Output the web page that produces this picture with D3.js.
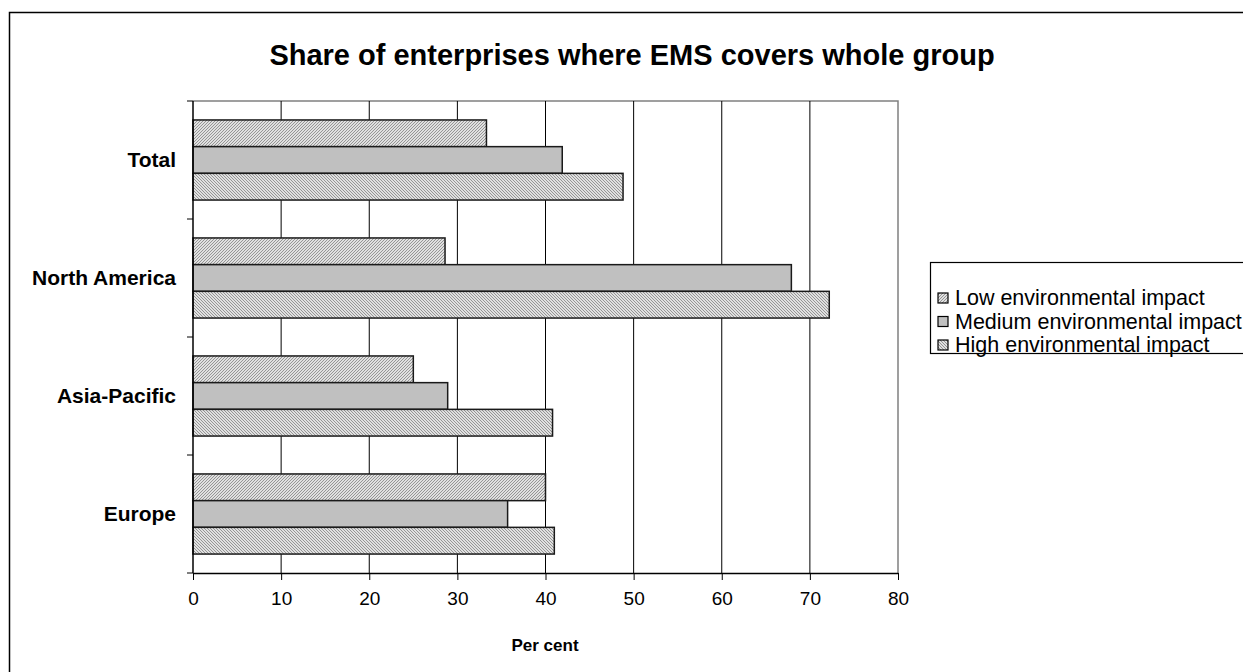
<!DOCTYPE html>
<html><head><meta charset="utf-8">
<script src="https://cdn.jsdelivr.net/npm/d3@7"></script>
<style>body{margin:0;background:#fff}svg{display:block;font-family:Arial,"Liberation Sans",sans-serif}</style>
</head><body>
<svg id="c" width="1243" height="672"></svg>
<script>
const categories = ["Total", "North America", "Asia-Pacific", "Europe"];
const seriesNames = ["Low environmental impact", "Medium environmental impact", "High environmental impact"];
const lowValues = [33.3, 28.6, 25.0, 40.0];
const mediumValues = [41.9, 67.9, 28.9, 35.7];
const highValues = [48.8, 72.2, 40.8, 41.0];
const xTicks = [0, 10, 20, 30, 40, 50, 60, 70, 80];

(function () {
const svg = d3.select("#c");
const defs = svg.append("defs");
function hatch(id, dir) {
  const p = defs.append("pattern").attr("id", id).attr("patternUnits", "userSpaceOnUse")
    .attr("width", 3).attr("height", 3);
  p.append("rect").attr("width", 3).attr("height", 3).attr("fill", "#e0e0e0");
  if (dir > 0) {
    p.append("path").attr("d", "M-1,1 l2,-2 M0,3 l3,-3 M2,4 l2,-2").attr("stroke", "#959595").attr("stroke-width", 1);
  } else {
    p.append("path").attr("d", "M-1,2 l2,2 M0,0 l3,3 M2,-1 l2,2").attr("stroke", "#959595").attr("stroke-width", 1);
  }
}
hatch("hLow", 1);
hatch("hHigh", -1);
const fills = ["url(#hLow)", "#c0c0c0", "url(#hHigh)"];

// outer frame
svg.append("rect").attr("x", 9.5).attr("y", 12.5).attr("width", 1260).attr("height", 680)
  .attr("fill", "none").attr("stroke", "#000").attr("stroke-width", 1.5);

const pLeft = 193, pRight = 898, pTop = 101, pBottom = 573;
const x = d3.scaleLinear().domain([0, 80]).range([pLeft, pRight]);
const y = d3.scaleBand().domain(categories).range([pTop, pBottom]).paddingInner(0).paddingOuter(0);
const inner = d3.scaleBand().domain(seriesNames).range([0, y.bandwidth()]).paddingOuter(0.71).paddingInner(0);

// plot area border (top/right gray)
svg.append("path").attr("d", `M${pLeft},${pTop}H${pRight}V${pBottom}`).attr("fill", "none")
  .attr("stroke", "#808080").attr("stroke-width", 1.5);

// gridlines
svg.append("g").selectAll("line").data(xTicks.slice(1, -1)).join("line")
  .attr("x1", d => x(d)).attr("x2", d => x(d)).attr("y1", pTop).attr("y2", pBottom)
  .attr("stroke", "#000").attr("stroke-width", 1);

// bars
const data = [lowValues, mediumValues, highValues];
const g = svg.append("g");
categories.forEach((c, i) => {
  seriesNames.forEach((s, j) => {
    g.append("rect")
      .attr("x", x(0)).attr("y", y(c) + inner(s))
      .attr("width", x(data[j][i]) - x(0)).attr("height", inner.bandwidth())
      .attr("fill", fills[j]).attr("stroke", "#1a1a1a").attr("stroke-width", 1.5);
  });
});

// x axis
const xAxis = svg.append("g").attr("transform", `translate(0,${pBottom})`)
  .call(d3.axisBottom(x).tickValues(xTicks).tickSize(7).tickPadding(12).tickSizeOuter(0));
xAxis.select(".domain").attr("stroke", "#000").attr("stroke-width", 1.5);
xAxis.selectAll(".tick line").attr("stroke", "#000");
xAxis.selectAll("text").attr("font-size", 19).attr("font-family", "Arial, Liberation Sans, sans-serif").attr("fill", "#000");

// y axis: ticks at band boundaries
const yAxisG = svg.append("g");
yAxisG.append("line").attr("x1", pLeft).attr("x2", pLeft).attr("y1", pTop).attr("y2", pBottom)
  .attr("stroke", "#000").attr("stroke-width", 1.5);
const bounds = categories.map(c => y(c)).concat([pBottom]);
yAxisG.selectAll("line.t").data(bounds).join("line").attr("class", "t")
  .attr("x1", pLeft - 6).attr("x2", pLeft).attr("y1", d => d).attr("y2", d => d)
  .attr("stroke", "#000").attr("stroke-width", 1);
yAxisG.selectAll("text").data(categories).join("text")
  .attr("x", 176).attr("y", d => y(d) + y.bandwidth() / 2 + 7)
  .attr("text-anchor", "end").attr("font-size", 21).attr("font-weight", "bold").text(d => d);

// title
svg.append("text").attr("x", 632).attr("y", 65).attr("text-anchor", "middle")
  .attr("font-size", 29).attr("font-weight", "bold").text("Share of enterprises where EMS covers whole group");

// x label
svg.append("text").attr("x", 545).attr("y", 651).attr("text-anchor", "middle")
  .attr("font-size", 17).attr("font-weight", "bold").text("Per cent");

// legend
const lg = svg.append("g");
lg.append("rect").attr("x", 930.5).attr("y", 262.5).attr("width", 330).attr("height", 91)
  .attr("fill", "#fff").attr("stroke", "#000").attr("stroke-width", 1.2);
seriesNames.forEach((s, j) => {
  const yy = 298 + j * 23.5;
  lg.append("rect").attr("x", 938).attr("y", yy - 5).attr("width", 10).attr("height", 10)
    .attr("fill", fills[j]).attr("stroke", "#000").attr("stroke-width", 1.2);
  lg.append("text").attr("x", 955).attr("y", yy + 7).attr("font-size", 21.5).text(s);
});
})();
</script>
</body></html>
